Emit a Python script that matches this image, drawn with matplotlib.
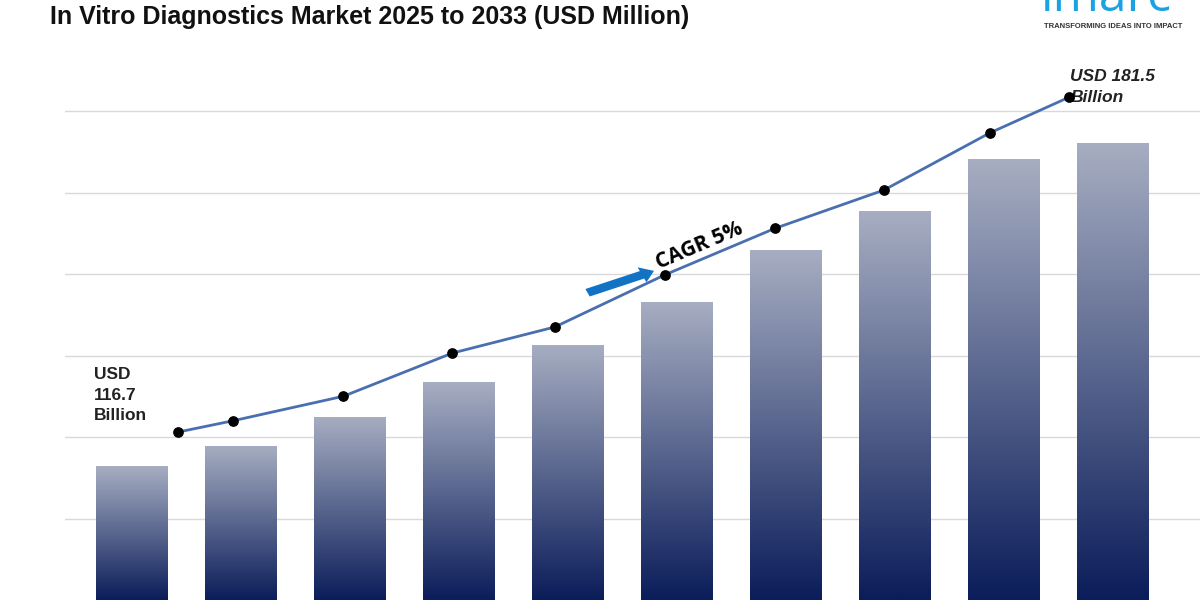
import matplotlib
matplotlib.use("Agg")
import matplotlib.pyplot as plt
import numpy as np
from matplotlib.patches import Rectangle, FancyArrow

plt.rcParams['font.family'] = ['Liberation Sans', 'DejaVu Sans']

bar_values = [1.64, 1.89, 2.25, 2.67, 3.13, 3.66, 4.29, 4.77, 5.41, 5.61]
line_x = [0.42, 0.93, 1.94, 2.94, 3.88, 4.89, 5.90, 6.90, 7.87, 8.60]
line_values = [2.06, 2.20, 2.50, 3.03, 3.35, 3.99, 4.56, 5.03, 5.73, 6.17]
grid_levels = [1, 2, 3, 4, 5, 6]

fig = plt.figure(figsize=(12, 6), dpi=100)
ax = fig.add_axes([65/1200, 0, 1135/1200, 1])
ax.set_xlim(-0.615, 9.8)
ax.set_ylim(0, 600/81.5)
ax.axis('off')

for g in grid_levels:
    ax.axhline(g, color='#d9d9d9', lw=1, zorder=0)

cmap = matplotlib.colors.LinearSegmentedColormap.from_list('g', ['#0b1d5a', '#a7aec2'])
grad = np.linspace(0, 1, 256).reshape(-1, 1)
w = 0.66
for i, v in enumerate(bar_values):
    im = ax.imshow(grad, extent=(i - w/2, i + w/2, 0, v), origin='lower', cmap=cmap,
                   aspect='auto', zorder=2)
    r = Rectangle((i - w/2, 0), w, v, transform=ax.transData, fill=False, lw=0)
    ax.add_patch(r)
    im.set_clip_path(r)

ax.plot(line_x, line_values, color='#4a6fb0', lw=2, zorder=3)
ax.scatter(line_x, line_values, color='black', s=45, zorder=4)

ax.text(-0.35, 2.17, 'USD\n116.7\nBillion', fontsize=12.5, fontweight='bold',
        color='#222222', va='bottom', ha='left', linespacing=1.45)
ax.text(8.61, 6.07, 'USD 181.5\nBillion', fontsize=12.5, fontweight='bold',
        style='italic', color='#222222', va='bottom', ha='left', linespacing=1.5)

ax.add_patch(FancyArrow(4.18, 3.77, 0.5, 0.22, width=0.1, head_width=0.2,
                        head_length=0.12, color='#1272c4', zorder=5, lw=0))
ax.text(4.78, 4.35, 'CAGR 5%', fontsize=15, fontweight='bold', rotation=23,
        ha='left', va='center', family=['Open Sans', 'DejaVu Sans'])

fig.text(50/1200, 1 - 17/600, 'In Vitro Diagnostics Market 2025 to 2033 (USD Million)',
         fontsize=18, fontweight='bold', color='#111111', va='center', ha='left')
fig.text(1040/1200, 1 + 2/600, 'imarc', fontsize=36, color='#1aa3e0', va='center',
         ha='left', family=['Open Sans', 'DejaVu Sans'])
fig.text(1113/1200, 1 - 27/600, 'TRANSFORMING IDEAS INTO IMPACT', fontsize=5.5,
         fontweight='bold', color='#333333', ha='center', va='center')

fig.savefig('out.png', dpi=100)
